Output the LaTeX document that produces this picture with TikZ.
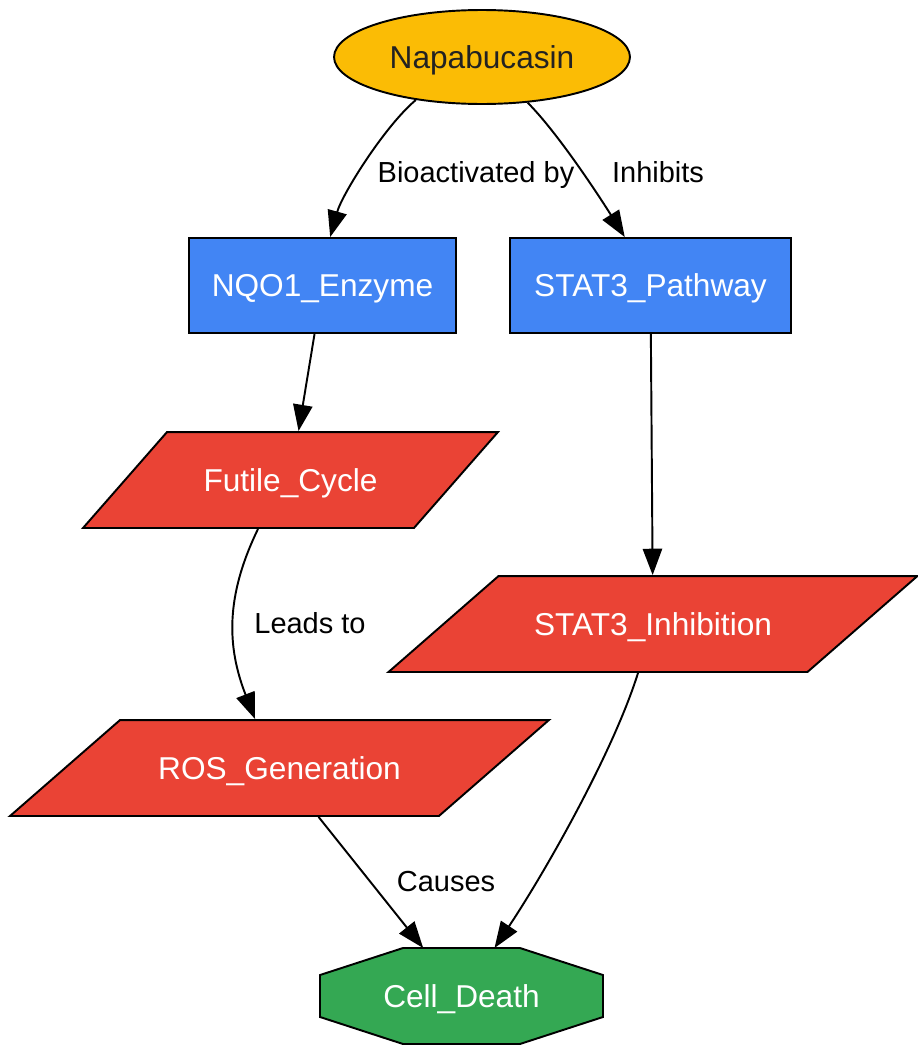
\documentclass[tikz,border=0pt]{standalone}
\usepackage{fontspec}
\setmainfont{Liberation Sans}
\usetikzlibrary{arrows.meta}
\usetikzlibrary{shapes.geometric}
\usetikzlibrary{backgrounds}

\definecolor{drugyellow}{HTML}{FBBC05}
\definecolor{targetblue}{HTML}{4285F4}
\definecolor{effectred}{HTML}{EA4335}
\definecolor{deathgreen}{HTML}{34A853}
\definecolor{darktext}{HTML}{222222}

\begin{document}
\begin{tikzpicture}[x=0.02cm, y=-0.02cm,
    base node/.style={draw, line width=1.1pt, inner sep=2pt, text height=13pt, text depth=0pt, font=\fontsize{18}{22}\selectfont},
    drug node/.style={base node, ellipse, fill=drugyellow, text=darktext, minimum width=5.92cm, minimum height=1.88cm},
    target node/.style={base node, rectangle, fill=targetblue, text=white, minimum height=1.9cm},
    effect node/.style={base node, trapezium, fill=effectred, text=white, inner xsep=0pt, inner ysep=20.8pt, align=center},
    death node/.style={base node, rectangle, draw=none, outer sep=0pt, text=white, minimum width=5.66cm, minimum height=1.92cm},
    edge line/.style={-{Triangle[length=15pt,width=11pt]}, line width=1.1pt},
    edge label/.style={inner sep=1pt, text height=11.8pt, text depth=0pt, font=\fontsize{16.5}{20}\selectfont},
    ]
  \useasboundingbox (0,0) rectangle (917,1045);

  \node[drug node] (nap) at (482,57) {Napabucasin};
  \node[target node, minimum width=5.34cm] (nqo1) at (322.5,285.5) {NQO1\_Enzyme};
  \node[target node, minimum width=5.62cm] (stat3p) at (650.5,285.5) {STAT3\_Pathway};
  \node[effect node, text width=4.94cm, trapezium left angle=48.8, trapezium right angle=131.2] (futile) at (290.5,480) {Futile\_Cycle};
  \node[effect node, text width=6.18cm, trapezium left angle=41.1, trapezium right angle=138.9] (stat3i) at (653,624) {STAT3\_Inhibition};
  \node[effect node, text width=6.38cm, trapezium left angle=41.1, trapezium right angle=138.9] (ros) at (279.5,768) {ROS\_Generation};
  \node[death node] (cell) at (461.5,996) {Cell\_Death};

  % octagon behind the text
  \begin{scope}[on background layer]
    \draw[fill=deathgreen, line width=1.1pt]
      ([xshift=1.66cm]cell.north west) -- ([xshift=-1.66cm]cell.north east)
      -- ([yshift=-0.54cm]cell.north east) -- ([yshift=0.54cm]cell.south east)
      -- ([xshift=-1.66cm]cell.south east) -- ([xshift=1.66cm]cell.south west)
      -- ([yshift=0.54cm]cell.south west) -- ([yshift=-0.54cm]cell.north west) -- cycle;
  \end{scope}

  \node[edge label] (lbio) at (476,172) {Bioactivated by};
  \node[edge label] (linh) at (658,172) {Inhibits};
  \node[edge label] (llead) at (310,623) {Leads to};
  \node[edge label] (lcause) at (446,881) {Causes};

  % curved edges
  \draw[edge line] (nap.213) .. controls +(-31,26) and +(12,-43) .. (nqo1.81);
  \draw[edge line] (nap.-45) .. controls +(30,30) and +(-25,-40) .. (stat3p.118);
  \draw[edge line] ([xshift=-0.65cm]futile.south) .. controls +(-33,68) and +(-28,-72) .. ([xshift=-0.49cm]ros.north);
  \draw[edge line] ([xshift=-0.30cm]stat3i.south) .. controls +(-25,80) and +(50,-75) .. ([xshift=0.66cm]cell.north);

  % straight edges
  \draw[edge line] (nqo1) -- (futile);
  \draw[edge line] (stat3p) -- (stat3i);
  \draw[edge line] (ros) -- (cell);
\end{tikzpicture}
\end{document}
